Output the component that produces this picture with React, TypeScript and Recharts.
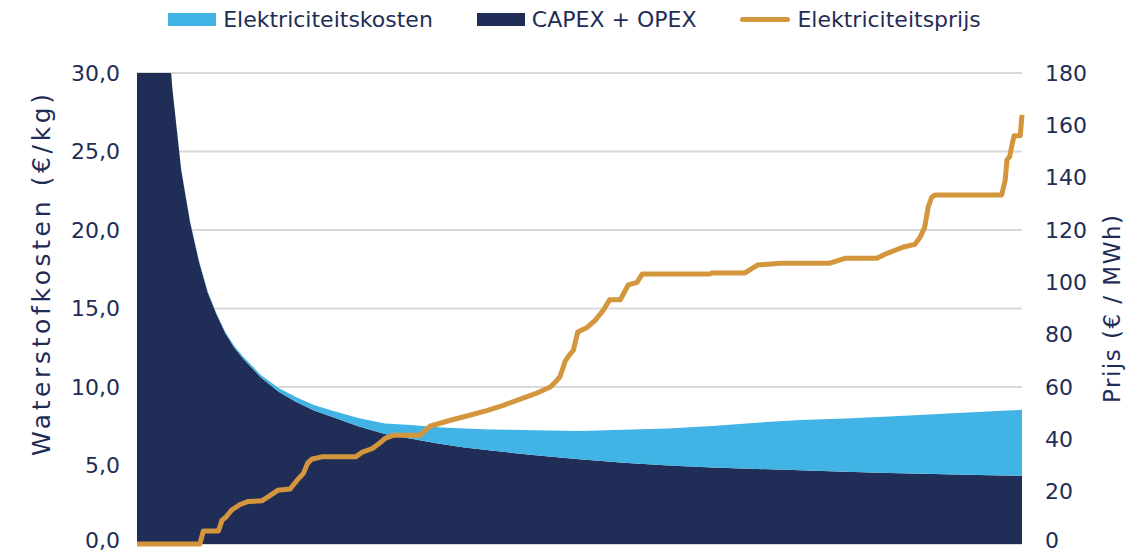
import React from "react";
import { ComposedChart, Area, Line, XAxis, YAxis, CartesianGrid, Legend } from "recharts";

// x = share of operating hours (%)
const xPos = [0, 3, 4, 5, 6, 7, 8, 9, 10, 11, 12, 14, 16, 18, 20, 22, 25, 28, 31, 34, 37, 40, 45, 50, 55, 60, 65, 70, 75, 80, 85, 90, 95, 100];
const capexOpex = [60, 36, 29, 23.8, 20.5, 18.0, 16.0, 14.6, 13.4, 12.5, 11.8, 10.6, 9.7, 9.05, 8.5, 8.1, 7.5, 7.0, 6.7, 6.4, 6.15, 5.95, 5.65, 5.4, 5.18, 5.0, 4.87, 4.78, 4.7, 4.6, 4.52, 4.46, 4.4, 4.35];
const elektriciteitskosten = [0, 0.01, 0.02, 0.03, 0.04, 0.05, 0.06, 0.07, 0.09, 0.11, 0.13, 0.17, 0.24, 0.3, 0.35, 0.4, 0.52, 0.68, 0.88, 1.03, 1.2, 1.35, 1.6, 1.8, 2.1, 2.35, 2.65, 2.95, 3.2, 3.4, 3.6, 3.8, 4.0, 4.2];

const prijsX = [0, 7.1, 7.5, 9.2, 9.6, 10.1, 10.7, 11.6, 12.5, 14.1, 14.8, 15.9, 17.3, 18.0, 18.8, 19.3, 19.8, 20.9, 24.7, 25.4, 26.6, 27.2, 28.1, 29.0, 32.0, 33.1, 35.4, 37.6, 39.5, 41.4, 43.3, 45.2, 46.7, 47.3, 47.8, 48.4, 48.8, 49.3, 49.8, 50.8, 51.8, 52.7, 53.4, 54.6, 55.5, 56.5, 57.1, 64.7, 65.0, 68.7, 70.1, 72.7, 78.3, 80.0, 83.6, 84.7, 86.6, 87.9, 88.5, 89.0, 89.4, 89.8, 90.2, 97.7, 98.1, 98.3, 98.6, 98.9, 99.1, 99.8, 100];
const prijs = [0, 0, 5, 5, 9, 10.5, 13, 15, 16.2, 16.5, 18, 20.5, 21, 24, 27, 31, 32.5, 33.3, 33.3, 35, 36.5, 38, 40.5, 41.6, 41.6, 45, 47.3, 49.2, 51, 53, 55.4, 57.7, 60, 62, 64, 70, 72, 74, 81, 82.6, 85.6, 89.4, 93.3, 93.3, 99, 100, 103.2, 103.2, 103.6, 103.6, 106.6, 107.3, 107.3, 109.2, 109.2, 111, 113.5, 114.5, 117.3, 121, 128.8, 132.6, 133.4, 133.4, 139, 146.8, 148, 153, 156, 156, 164];

const leftTicks = [0, 5, 10, 15, 20, 25, 30];
const rightTicks = [0, 20, 40, 60, 80, 100, 120, 140, 160, 180];

const legendItems = [
  { label: "Elektriciteitskosten", color: "#41B4E5", kind: "box" },
  { label: "CAPEX + OPEX", color: "#202E57", kind: "box" },
  { label: "Elektriciteitsprijs", color: "#D4963C", kind: "line" },
];

const data = xPos.map((x, i) => ({ x, capex: capexOpex[i], elek: elektriciteitskosten[i] }));
const prijsData = prijsX.map((x, i) => ({ x, prijs: prijs[i] }));

const TEXT = "#1F2D56";
const FONT = "'DejaVu Sans', Verdana, sans-serif";

function LegendContent() {
  return (
    <div style={{ display: "flex", justifyContent: "center", alignItems: "center", height: 30, paddingLeft: 12, fontFamily: FONT, fontSize: 22, color: TEXT }}>
      {legendItems.map((it, i) => (
        <div key={it.label} style={{ display: "flex", alignItems: "center", marginLeft: i === 0 ? 0 : 44 }}>
          {it.kind === "box" ? (
            <span style={{ display: "inline-block", width: 48, height: 13, background: it.color, marginRight: 7 }} />
          ) : (
            <span style={{ display: "inline-block", width: 50, height: 5, borderRadius: 3, background: it.color, marginRight: 7 }} />
          )}
          <span>{it.label}</span>
        </div>
      ))}
    </div>
  );
}

// bottom tick sits on the lower edge, lift it a little so it stays inside
const makeTick = (fmt: (v: number) => string) => (props: any) => {
  const { x, y, payload, textAnchor } = props;
  const lift = payload.value === 0 ? 4 : 0;
  return (
    <text x={x} y={y - lift} dy="0.355em" textAnchor={textAnchor} fill={TEXT} fontSize={22} fontFamily={FONT}>
      {fmt(payload.value)}
    </text>
  );
};

const leftTitle = (props: any) => {
  const vb = props.viewBox;
  const cx = vb.x + 41;
  const cy = 275;
  return (
    <text x={cx} y={cy} transform={`rotate(-90, ${cx}, ${cy})`} textAnchor="middle" dominantBaseline="central" fill={TEXT} fontSize={25} fontFamily={FONT} textLength={362} lengthAdjust="spacing">
      Waterstofkosten (€/kg)
    </text>
  );
};

const rightTitle = (props: any) => {
  const vb = props.viewBox;
  const cx = vb.x + 90;
  const cy = 309;
  return (
    <text x={cx} y={cy} transform={`rotate(-90, ${cx}, ${cy})`} textAnchor="middle" dominantBaseline="central" fill={TEXT} fontSize={23} fontFamily={FONT} textLength={188} lengthAdjust="spacing">
      Prijs (€ / MWh)
    </text>
  );
};

export default function App() {
  return (
    <div style={{ width: 1137, height: 554, background: "#fff" }}>
      <style>{"body{margin:0}"}</style>
      <ComposedChart width={1137} height={554} data={data} margin={{ top: 43, right: 0, left: 0, bottom: 10 }}>
        <CartesianGrid yAxisId="left" vertical={false} stroke="#D9D9D9" strokeWidth={2} />
        <XAxis dataKey="x" type="number" domain={[0, 100]} hide />
        <YAxis
          yAxisId="left"
          width={137}
          domain={[0, 30]}
          ticks={leftTicks}
          interval={0}
          allowDataOverflow
          axisLine={false}
          tickLine={false}
          tickSize={0}
          tickMargin={17}
          tick={makeTick((v) => v.toFixed(1).replace(".", ","))}
          label={leftTitle}
        />
        <YAxis
          yAxisId="right"
          orientation="right"
          width={115}
          domain={[0, 180]}
          ticks={rightTicks}
          interval={0}
          axisLine={false}
          tickLine={false}
          tickSize={0}
          tickMargin={23}
          tick={makeTick((v) => String(v))}
          label={rightTitle}
        />
        <Legend verticalAlign="top" align="center" wrapperStyle={{ top: 4 }} content={LegendContent} />
        <Area yAxisId="left" type="linear" dataKey="capex" stackId="k" stroke="none" fill="#202E57" fillOpacity={1} isAnimationActive={false} name="CAPEX + OPEX" />
        <Area yAxisId="left" type="linear" dataKey="elek" stackId="k" stroke="none" fill="#41B4E5" fillOpacity={1} isAnimationActive={false} name="Elektriciteitskosten" />
        <Line yAxisId="right" data={prijsData} type="linear" dataKey="prijs" stroke="#D4963C" strokeWidth={5} dot={false} activeDot={false} strokeLinejoin="round" isAnimationActive={false} name="Elektriciteitsprijs" />
      </ComposedChart>
    </div>
  );
}
